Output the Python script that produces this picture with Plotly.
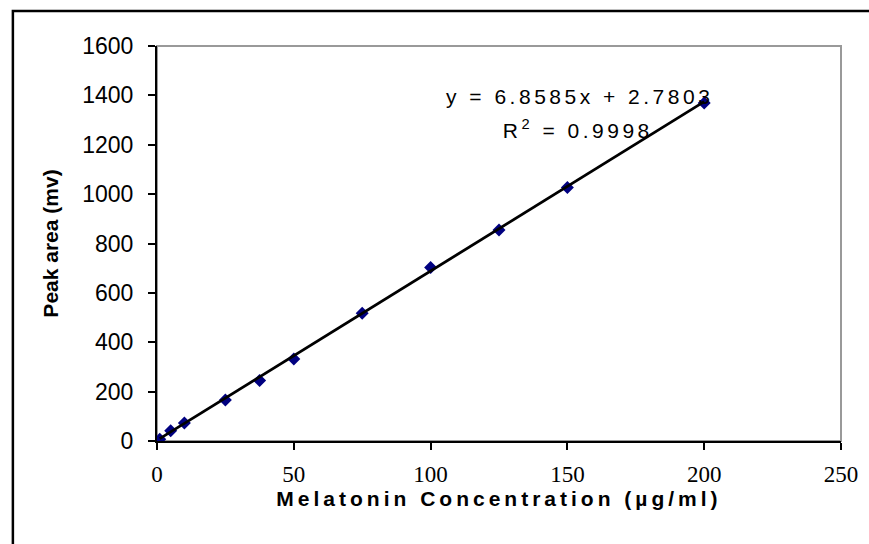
import plotly.graph_objects as go

# Data
conc = [1, 5, 10, 25, 37.5, 50, 75, 100, 125, 150, 200]
peak_area = [7, 42, 73, 166, 245, 332, 517, 703, 855, 1027, 1369]
slope = 6.8585
intercept = 2.7803
r2 = 0.9998
x_ticks = [0, 50, 100, 150, 200, 250]
y_ticks = [0, 200, 400, 600, 800, 1000, 1200, 1400, 1600]

fit_x = [min(conc), max(conc)]
fit_y = [slope * v + intercept for v in fit_x]

fig = go.Figure()
fig.add_trace(go.Scatter(x=conc, y=peak_area, mode="markers",
                         marker=dict(symbol="diamond", size=10, color="#000080",
                                     line=dict(width=0)),
                         showlegend=False))
fig.add_trace(go.Scatter(x=fit_x, y=fit_y, mode="lines",
                         line=dict(color="black", width=2.8), showlegend=False))

fig.update_layout(
    width=869, height=544,
    margin=dict(l=157, r=28, t=46, b=103),
    paper_bgcolor="white", plot_bgcolor="white",
    xaxis=dict(range=[0, 250], tickvals=x_ticks, ticks="outside", ticklen=7,
               tickwidth=1.5, tickcolor="black", showline=True, linecolor="black",
               linewidth=2, showgrid=False, zeroline=False,
               tickfont=dict(family="Liberation Serif", size=23, color="black"),
               ticklabelstandoff=4,
               title=dict(text="<b>Melatonin Concentration (µg/ml)</b>",
                          font=dict(family="Liberation Sans", size=21, color="black"),
                          standoff=5)),
    yaxis=dict(range=[0, 1600], tickvals=y_ticks, ticks="outside", ticklen=7,
               tickwidth=1.5, tickcolor="black", showline=True, linecolor="black",
               linewidth=2, showgrid=False, zeroline=False,
               tickfont=dict(family="Liberation Sans", size=23, color="black"),
               ticklabelstandoff=10,
               title=dict(text="<b>Peak area (mv)</b>",
                          font=dict(family="Liberation Sans", size=21, color="black"),
                          standoff=18)),
    shapes=[
        dict(type="rect", xref="paper", yref="paper", x0=0, x1=1, y0=0, y1=1,
             line=dict(color="#999999", width=2), layer="below"),
        dict(type="rect", xref="paper", yref="paper", x0=-0.2107, x1=1.2,
             y0=-0.5, y1=1.0886, line=dict(color="black", width=2.5), layer="below"),
    ],
    annotations=[
        dict(x=154.4, y=1397, xref="x", yref="y", text="y = 6.8585x + 2.7803",
             showarrow=False, font=dict(family="Liberation Sans", size=21, color="black")),
        dict(x=154.0, y=1262, xref="x", yref="y", text="R<sup>2</sup> = 0.9998",
             showarrow=False, font=dict(family="Liberation Sans", size=21, color="black")),
    ],
)

post = """
document.body.style.margin = '0';
document.body.style.padding = '0';
var gd = document.getElementById('{plot_id}');
function ls(){
  document.querySelectorAll('.xtitle').forEach(function(e){e.style.letterSpacing='4px';});
  document.querySelectorAll('.annotation-text').forEach(function(e){e.style.letterSpacing='3.5px';});
}
ls();
if (gd && gd.on) { gd.on('plotly_afterplot', ls); }
"""
fig.write_html("out.html", post_script=post, config={"displayModeBar": False})
